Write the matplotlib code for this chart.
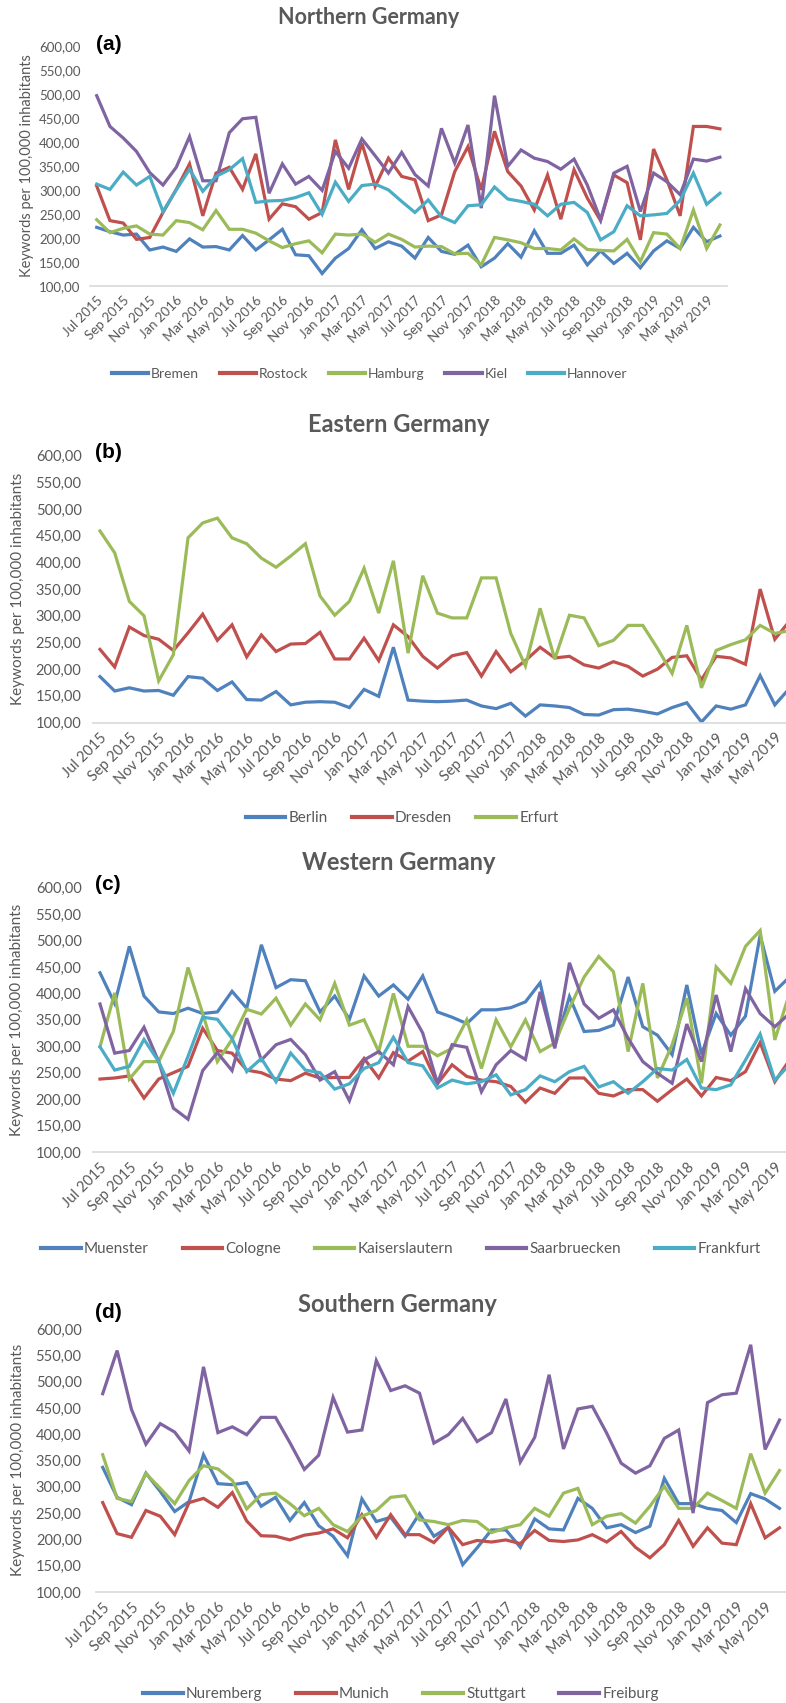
import matplotlib
matplotlib.use("Agg")
import matplotlib.pyplot as plt
from matplotlib.ticker import FuncFormatter

plt.rcParams['font.family'] = ['Lato', 'DejaVu Sans']

# month labels (every second month is shown on the axis)
tick_labels = ["Jul 2015", "Sep 2015", "Nov 2015", "Jan 2016", "Mar 2016", "May 2016",
               "Jul 2016", "Sep 2016", "Nov 2016", "Jan 2017", "Mar 2017", "May 2017",
               "Jul 2017", "Sep 2017", "Nov 2017", "Jan 2018", "Mar 2018", "May 2018",
               "Jul 2018", "Sep 2018", "Nov 2018", "Jan 2019", "Mar 2019", "May 2019"]
n_months = 48

# (a) Northern Germany
bremen = [222, 213, 206, 208, 175, 181, 172, 198, 181, 182, 175, 205, 175, 196, 218, 165,
          163, 126, 158, 178, 217, 178, 192, 183, 158, 201, 172, 166, 185, 140, 158, 188,
          160, 215, 168, 168, 185, 144, 173, 147, 168, 138, 173, 194, 178, 222, 192, 204]
rostock = [308, 236, 231, 197, 201, 253, 301, 354, 246, 335, 347, 301, 375, 239, 271, 265,
           239, 253, 404, 301, 397, 307, 366, 328, 321, 236, 248, 338, 390, 300, 422, 338,
           308, 258, 331, 239, 342, 283, 236, 331, 315, 196, 385, 321, 246, 432, 432, 427]
hamburg = [238, 211, 220, 225, 208, 206, 236, 232, 217, 257, 218, 218, 210, 194, 180, 188,
           194, 169, 208, 206, 208, 191, 208, 197, 181, 183, 182, 167, 168, 144, 201, 196,
           190, 178, 178, 175, 198, 176, 174, 173, 197, 151, 211, 208, 178, 258, 178, 227]
kiel = [496, 432, 408, 380, 336, 310, 347, 411, 319, 319, 419, 448, 451, 293, 354, 312,
        328, 299, 380, 345, 406, 371, 335, 378, 332, 308, 428, 356, 435, 262, 496, 349,
        383, 366, 359, 343, 364, 310, 238, 335, 349, 255, 335, 317, 290, 364, 360, 368]
hannover = [312, 301, 337, 310, 328, 255, 300, 343, 297, 328, 342, 365, 274, 277, 278, 284,
            294, 249, 316, 276, 309, 312, 300, 276, 253, 279, 244, 232, 267, 269, 306, 281,
            276, 270, 246, 270, 274, 253, 196, 213, 267, 246, 248, 251, 278, 335, 270, 293]

# (b) Eastern Germany
berlin = [186, 159, 165, 159, 160, 151, 186, 183, 160, 176, 143, 142, 158, 133, 138, 139,
          138, 128, 162, 149, 241, 142, 140, 139, 140, 142, 131, 126, 136, 112, 133, 131,
          128, 115, 114, 124, 125, 121, 116, 128, 137, 101, 131, 125, 133, 188, 133, 164]
dresden = [237, 204, 279, 263, 256, 235, 268, 303, 254, 283, 223, 264, 233, 247, 248, 269,
           219, 219, 258, 216, 283, 261, 224, 202, 225, 231, 187, 233, 195, 216, 241, 221,
           224, 208, 202, 214, 205, 187, 200, 222, 225, 180, 224, 221, 209, 350, 256, 290]
erfurt = [459, 418, 327, 300, 178, 227, 446, 474, 483, 446, 435, 408, 391, 412, 435, 337,
          301, 327, 389, 305, 403, 230, 375, 305, 296, 296, 371, 371, 267, 206, 314, 219,
          301, 296, 244, 254, 282, 282, 239, 192, 282, 165, 235, 246, 255, 282, 267, 272]

# (c) Western Germany
muenster = [439, 381, 489, 395, 365, 362, 372, 362, 365, 404, 372, 492, 411, 426, 424, 365,
            395, 351, 433, 395, 416, 389, 433, 365, 355, 343, 369, 369, 373, 384, 420, 299,
            394, 328, 330, 340, 431, 337, 321, 284, 416, 285, 362, 321, 357, 510, 404, 431]
cologne = [238, 240, 244, 202, 238, 250, 262, 334, 292, 287, 255, 250, 238, 235, 249, 240,
           241, 241, 277, 240, 288, 272, 290, 229, 265, 243, 236, 233, 224, 194, 221, 211,
           240, 240, 211, 206, 218, 218, 196, 218, 238, 206, 241, 235, 252, 307, 233, 274]
kaiserslautern = [299, 401, 238, 271, 271, 328, 449, 362, 271, 313, 370, 361, 391, 340, 380, 350,
                  419, 340, 350, 290, 400, 300, 300, 282, 296, 350, 258, 350, 299, 350, 290, 306,
                  372, 431, 470, 441, 290, 419, 240, 303, 391, 230, 450, 419, 489, 519, 312, 400]
saarbruecken = [380, 287, 292, 336, 271, 183, 162, 254, 288, 254, 353, 274, 303, 313, 284, 236,
                252, 197, 274, 290, 265, 375, 325, 230, 303, 298, 214, 265, 292, 275, 403, 296,
                458, 380, 353, 369, 315, 271, 249, 230, 342, 271, 397, 290, 409, 362, 337, 362]
frankfurt = [299, 255, 262, 313, 271, 211, 281, 355, 351, 315, 252, 277, 233, 287, 255, 250,
             219, 229, 258, 269, 317, 269, 263, 221, 236, 229, 233, 246, 208, 218, 244, 233,
             252, 262, 223, 233, 211, 233, 258, 255, 275, 221, 218, 227, 274, 323, 236, 265]

# (d) Southern Germany
nuremberg = [337, 280, 266, 326, 291, 253, 272, 361, 306, 304, 308, 263, 280, 236, 270, 226,
             206, 169, 277, 234, 242, 206, 249, 206, 223, 152, 184, 218, 218, 185, 239, 220,
             218, 278, 259, 222, 228, 213, 225, 316, 268, 268, 259, 255, 232, 287, 277, 259]
munich = [270, 211, 204, 255, 244, 209, 270, 278, 261, 289, 235, 207, 206, 199, 208, 212,
          220, 203, 247, 204, 247, 209, 209, 194, 223, 190, 198, 195, 199, 192, 217, 198,
          196, 199, 209, 195, 215, 185, 165, 190, 236, 187, 222, 193, 190, 268, 203, 222]
stuttgart = [361, 278, 272, 325, 297, 268, 312, 340, 334, 312, 258, 285, 288, 268, 245, 259,
             228, 215, 244, 255, 280, 283, 237, 234, 228, 236, 234, 213, 222, 228, 259, 244,
             288, 297, 228, 244, 249, 231, 263, 301, 259, 259, 288, 274, 259, 363, 288, 331]
freiburg = [477, 559, 447, 381, 420, 404, 368, 528, 403, 414, 399, 432, 432, 384, 333, 360,
            470, 404, 408, 540, 483, 492, 478, 383, 399, 430, 386, 403, 467, 347, 394, 513,
            372, 448, 453, 402, 345, 326, 340, 392, 408, 250, 460, 475, 478, 570, 371, 427]

blue, red, green, purple, cyan = "#4F81BD", "#C0504D", "#9BBB59", "#8064A2", "#4BACC6"
grey = "#595959"

W, H = 786, 1703
fig = plt.figure(figsize=(W / 100, H / 100), dpi=100)


def panel(x0, dx, top, bottom, series, names, colors, title, title_xy, title_size,
          letter, letter_xy, ylab_xy, size, ylab_size, legend_xy, colsp, ypad):
    left = x0 - dx / 2
    right = x0 + (n_months - 0.5) * dx
    ax = fig.add_axes([left / W, 1 - bottom / H, (right - left) / W, (bottom - top) / H])
    x = list(range(n_months))
    for s, name, c in zip(series, names, colors):
        ax.plot(x, s, color=c, lw=2.3, label=name, solid_joinstyle="miter")
    ax.set_xlim(-0.5, n_months - 0.5)
    ax.set_ylim(100, 600)
    ax.set_yticks(range(100, 601, 50))
    ax.yaxis.set_major_formatter(FuncFormatter(lambda v, p: f"{v:.2f}".replace(".", ",")))
    ax.set_xticks(range(0, n_months, 2))
    ax.set_xticklabels(tick_labels, rotation=45, ha="right", rotation_mode="anchor")
    ax.tick_params(axis="both", length=0, colors=grey, labelsize=size)
    ax.tick_params(axis="x", pad=6)
    ax.tick_params(axis="y", pad=ypad)
    for sp in ["top", "right", "left"]:
        ax.spines[sp].set_visible(False)
    ax.spines["bottom"].set_color("#D9D9D9")
    ax.spines["bottom"].set_linewidth(1.2)
    ax.patch.set_alpha(0)

    fig.text(title_xy[0] / W, 1 - title_xy[1] / H, title, ha="center", va="center",
             fontsize=title_size, fontweight="bold", color=grey)
    fig.text(letter_xy[0] / W, 1 - letter_xy[1] / H, letter, ha="left", va="center",
             fontsize=15, fontweight="bold", color="black", family="Liberation Sans")
    fig.text(ylab_xy[0] / W, 1 - ylab_xy[1] / H, "Keywords per 100,000 inhabitants",
             rotation=90, ha="center", va="center", fontsize=ylab_size, color=grey)
    leg = ax.legend(loc="center", bbox_to_anchor=(legend_xy[0] / W, 1 - legend_xy[1] / H),
                    bbox_transform=fig.transFigure, ncol=len(series), frameon=False,
                    fontsize=size + 0.5, handlelength=2.6, handletextpad=0.2,
                    columnspacing=colsp, borderpad=0)
    for t in leg.get_texts():
        t.set_color(grey)
    for h in leg.get_lines():
        h.set_linewidth(3)
    return ax


panel(96.7, 13.26, 45.7, 286, [bremen, rostock, hamburg, kiel, hannover],
      ["Bremen", "Rostock", "Hamburg", "Kiel", "Hannover"], [blue, red, green, purple, cyan],
      "Northern Germany", (369, 17), 15.5, "(a)", (96, 45), (27, 166), 9.5, 10.5,
      (370, 374), 1.5, 7)

panel(100, 14.67, 455.7, 722.5, [berlin, dresden, erfurt],
      ["Berlin", "Dresden", "Erfurt"], [blue, red, green],
      "Eastern Germany", (399, 425), 17, "(b)", (95, 453), (18, 589), 10.5, 11,
      (402, 818), 1.6, 8)

panel(100, 14.67, 887.7, 1152, [muenster, cologne, kaiserslautern, saarbruecken, frankfurt],
      ["Muenster", "Cologne", "Kaiserslautern", "Saarbruecken", "Frankfurt"],
      [blue, red, green, purple, cyan],
      "Western Germany", (399, 862), 17, "(c)", (95, 884), (17, 1020), 10.5, 11,
      (401, 1249), 2.2, 8)

panel(102.7, 14.4, 1329, 1592, [nuremberg, munich, stuttgart, freiburg],
      ["Nuremberg", "Munich", "Stuttgart", "Freiburg"], [blue, red, green, purple],
      "Southern Germany", (397, 1305), 17, "(d)", (95, 1313), (18, 1460), 10.5, 11,
      (401, 1694), 2.2, 10)

fig.savefig("out.png", dpi=100)
